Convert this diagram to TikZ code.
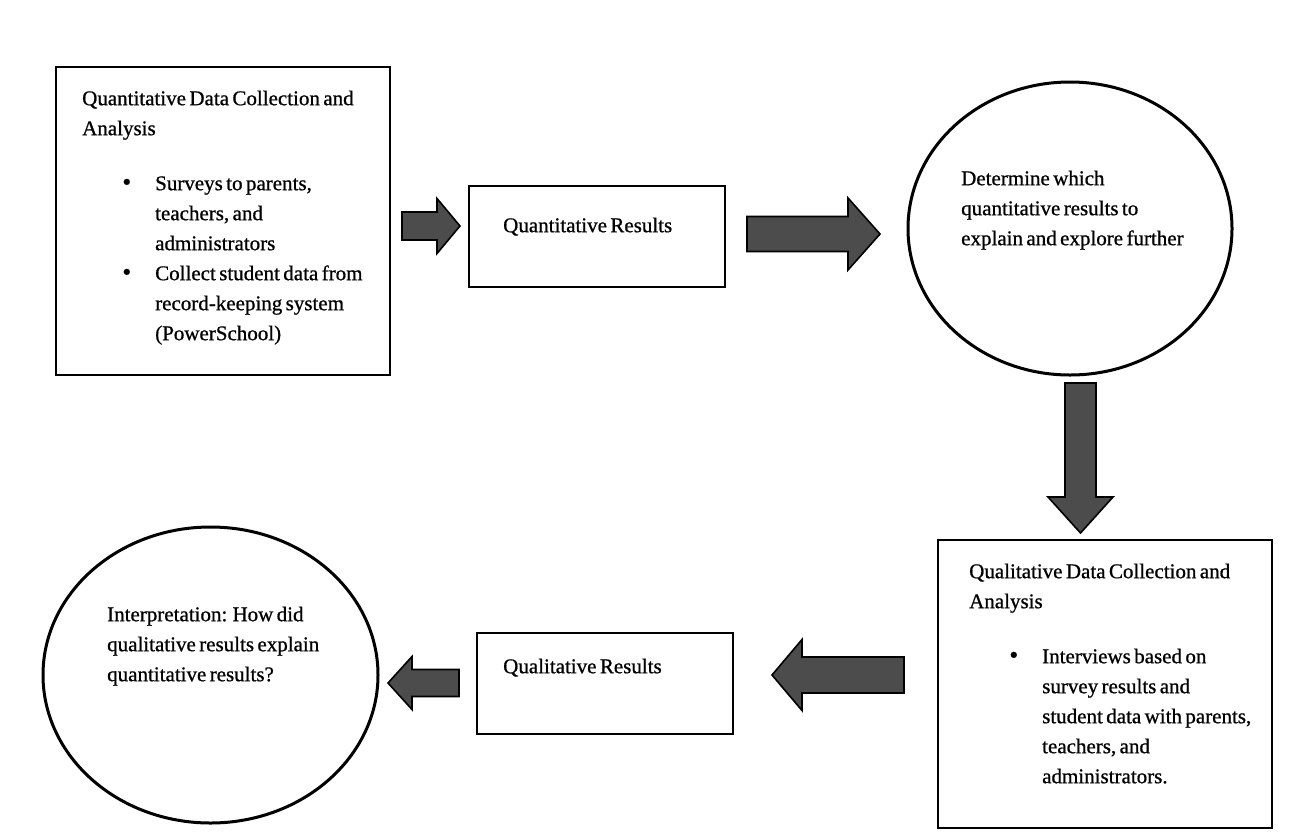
\documentclass[tikz,border=0pt]{standalone}
\usepackage{fontspec}
\setmainfont{Liberation Serif}[FakeBold=0.8]
\usetikzlibrary{shapes.geometric}
\newcommand\hblock[6]{% tail x, tip x, centre y, shaft half, head half, head base x
  \draw[blockarrow] (#1,#3-#4) -- (#6,#3-#4) -- (#6,#3-#5) -- (#2,#3) -- (#6,#3+#5) -- (#6,#3+#4) -- (#1,#3+#4) -- cycle;}
\newcommand\vblock[6]{% tail y, tip y, centre x, shaft half, head half, head base y
  \draw[blockarrow] (#3-#4,#1) -- (#3-#4,#6) -- (#3-#5,#6) -- (#3,#2) -- (#3+#5,#6) -- (#3+#4,#6) -- (#3+#4,#1) -- cycle;}
\newcommand\bul{\llap{\scalebox{1.2}{\textbullet}\hspace{24pt}}}
\newcommand\diagfont{\fontsize{21}{30}\selectfont\spaceskip=3.4pt plus 1pt minus 1pt\relax}
\begin{document}
\begin{tikzpicture}[x=1pt,y=-1pt,
  stagebox/.style={draw=black, line width=2pt, rectangle, inner sep=0pt},
  stageoval/.style={draw=black, line width=3pt, ellipse, inner sep=0pt},
  txt/.style={anchor=north west, inner sep=0pt, align=left, font=\diagfont},
  blockarrow/.style={draw=black, line width=1.6pt, fill=black!70, line join=miter}]
\useasboundingbox[fill=white] (0,0) rectangle (1292,836);

% shapes
\node[stagebox, minimum width=334pt, minimum height=308pt] (quanbox) at (223,221) {};
\node[stagebox, minimum width=256pt, minimum height=101pt] (quanres) at (597,236.5) {};
\node[stageoval, minimum width=324pt, minimum height=293pt] (determine) at (1070,228.5) {};
\node[stagebox, minimum width=334pt, minimum height=288pt] (qualbox) at (1105,684) {};
\node[stagebox, minimum width=256pt, minimum height=101pt] (qualres) at (605,683.5) {};
\node[stageoval, minimum width=335pt, minimum height=296pt] (interp) at (210.5,675) {};

% texts
\node[txt] (quanhead) at (82,84) {\strut Quantitative Data Collection and\\Analysis};
\node[txt] (quanlist) at (155,169) {\strut\bul Surveys to parents,\\teachers, and\\administrators\\\bul Collect student data from\\record-keeping system\\(PowerSchool)};
\node[txt] (quanrestxt) at (503,211) {\strut Quantitative Results};
\node[txt] (dettxt) at (961,164) {\strut Determine which\\quantitative results to\\explain and explore further};
\node[txt] (qualhead) at (969,557) {\strut Qualitative Data Collection and\\Analysis};
\node[txt] (quallist) at (1042,642) {\strut\bul Interviews based on\\survey results and\\student data with parents,\\teachers, and\\administrators.};
\node[txt] (qualrestxt) at (503,652) {\strut Qualitative Results};
\node[txt] (interptxt) at (107,600) {\strut Interpretation: How did\\qualitative results explain\\quantitative results?};

% block arrows
\hblock{402}{460}{226}{14}{27.5}{437}
\hblock{747}{880}{234}{17.5}{36}{848}
\vblock{383}{533}{1080.5}{15.5}{32.5}{497}
\hblock{904}{772}{675}{18}{35.5}{802}
\hblock{459}{388}{683}{13.5}{26.5}{412}
\end{tikzpicture}
\end{document}
